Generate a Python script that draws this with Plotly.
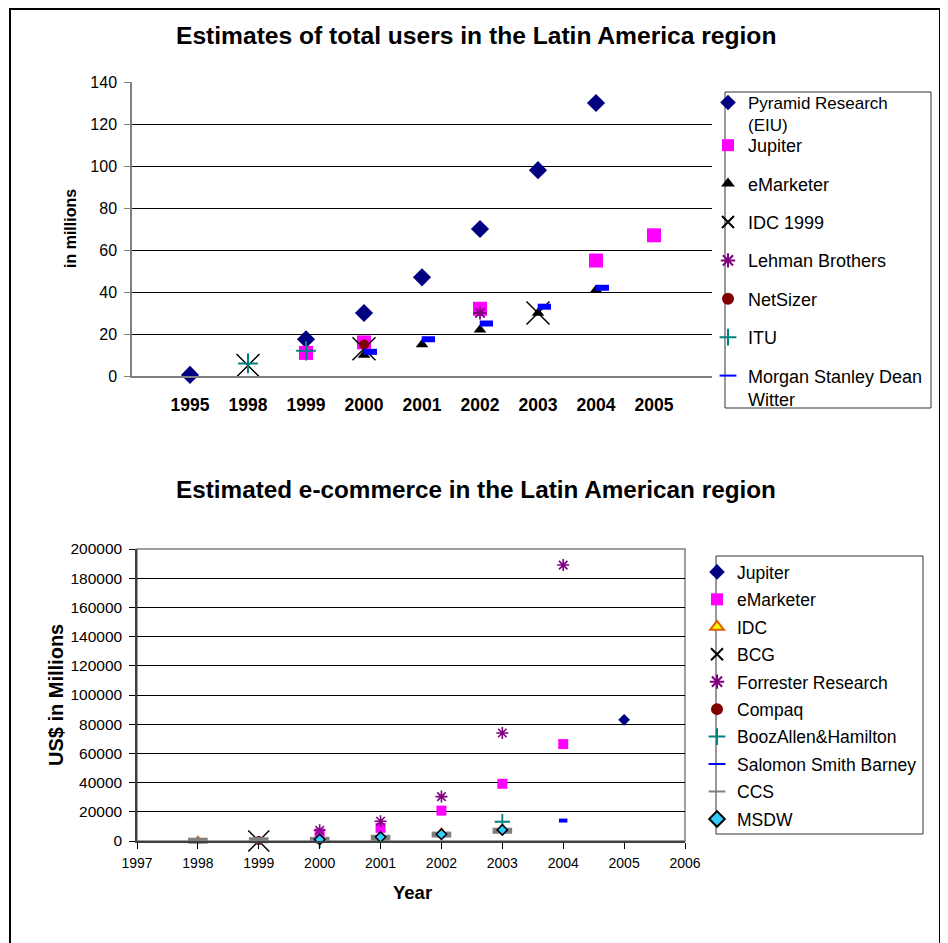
import plotly.graph_objects as go

W, H = 948, 943
OFF = 8  # page body margin in the browser
FONT = "Liberation Sans, Arial, sans-serif"

def fx(p):
    return (p - OFF) / W

def fy(p):
    return 1 - (p - OFF) / H

# ---------------- Top chart data (users, millions) ----------------
top_years = ["1995", "1998", "1999", "2000", "2001", "2002", "2003", "2004", "2005"]
pyramid = [0.5, None, 17.5, 30, 47, 70, 98, 130, None]
jupiter_u = [None, None, 11, 16, None, 32, None, 55, 67]
emarketer_u = [None, None, None, 10, 15, 22, 30, 41, None]
idc1999 = [None, 5, None, 13, None, None, 30, None, None]
lehman = [None, None, None, None, None, 30, None, None, None]
netsizer = [None, None, None, 15, None, None, None, None, None]
itu = [None, 6, 12, None, None, None, None, None, None]
msdw_u = [None, None, None, 11.5, 17.5, 25, 33, 42, None]

# ---------------- Bottom chart data (US$ millions) ----------------
bot_years = [1998, 1999, 2000, 2001, 2002, 2003, 2004, 2005]
jupiter_e = [None, None, None, None, None, None, None, 83000]
emarketer_e = [None, None, 5200, 9000, 20800, 39200, 66400, None]
idc_e = [300, None, 400, None, 6000, 8800, None, None]
bcg = [None, 0, None, None, None, None, None, None]
forrester = [None, None, 7400, 13500, 30400, 74000, 189000, None]
compaq = [None, 300, None, None, None, None, None, None]
booz = [None, None, 300, None, None, 13200, None, None]
salomon = [None, None, None, None, None, None, 14000, None]
ccs = [200, 500, 800, 2200, 4400, 7000, None, None]
msdw_e = [None, None, 1000, 2700, 4600, 7600, None, None]

fig = go.Figure()

pos = list(range(1, len(top_years) + 1))

def top_trace(name, vals, symbol, color, size, lw=0, lcolor=None, xaxis="x", legend="legend"):
    fig.add_trace(go.Scatter(
        x=pos, y=vals, mode="markers", name=name, legend=legend,
        legendgroup=name, xaxis=xaxis, yaxis="y", cliponaxis=False,
        marker=dict(symbol=symbol, color=color, size=size,
                    line=dict(width=lw, color=lcolor or color)),
        hoverinfo="x+y+name"))

top_trace("Pyramid Research<br>(EIU)", pyramid, "diamond", "#000080", 14, legend="legend3")
top_trace("Jupiter", jupiter_u, "square", "#FF00FF", 14)
top_trace("eMarketer", emarketer_u, "triangle-up", "#000000", 11)
top_trace("IDC 1999", idc1999, "x-thin", "#000000", 23, 1.5)
top_trace("Lehman Brothers", lehman, "asterisk", "#800080", 11, 1.8)
top_trace("NetSizer", netsizer, "circle", "#800000", 10)
top_trace("ITU", itu, "cross-thin", "#008080", 14, 2)
top_trace("Morgan Stanley Dean<br>Witter", msdw_u, "line-ew", "#0000FF", 9.5, 6, xaxis="x3")

def bot_trace(name, vals, symbol, color, size, lw=0, lcolor=None):
    fig.add_trace(go.Scatter(
        x=bot_years, y=vals, mode="markers", name=name, legend="legend2",
        legendgroup=name, xaxis="x2", yaxis="y2", cliponaxis=False,
        marker=dict(symbol=symbol, color=color, size=size,
                    line=dict(width=lw, color=lcolor or color))))

bot_trace("Jupiter", jupiter_e, "diamond", "#000080", 9)
bot_trace("eMarketer", emarketer_e, "square", "#FF00FF", 10)
bot_trace("IDC", idc_e, "triangle-up", "#FFFF00", 8, 1.5, "#E06000")
bot_trace("BCG", bcg, "x-thin", "#000000", 21, 1.5)
bot_trace("Forrester Research", forrester, "asterisk", "#800080", 10, 1.6)
bot_trace("Compaq", compaq, "circle", "#800000", 9)
bot_trace("BoozAllen&Hamilton", booz, "cross-thin", "#008080", 11, 1.8)
bot_trace("Salomon Smith Barney", salomon, "line-ew", "#0000FF", 6, 4)
bot_trace("CCS", ccs, "line-ew", "#808080", 14, 6)
bot_trace("MSDW", msdw_e, "diamond", "#33CCFF", 8, 1.5, "#000000")

leg_common = dict(xanchor="left", yanchor="top", bgcolor="rgba(0,0,0,0)",
                  borderwidth=0, itemsizing="constant")

fig.update_layout(
    width=W, height=H, autosize=False,
    margin=dict(l=0, r=0, t=0, b=0, pad=0, autoexpand=False),
    paper_bgcolor="white", plot_bgcolor="white",
    font=dict(family=FONT, color="black"),
    showlegend=True,
    xaxis=dict(domain=[fx(132), fx(712)], range=[0, 10], anchor="y",
               tickmode="array", tickvals=pos, ticktext=top_years,
               tickfont=dict(family=FONT, size=17.5, color="black", weight="bold"),
               ticks="", showgrid=False, zeroline=False,
               showline=True, linecolor="#808080", linewidth=1.5,
               ticklabelstandoff=12, fixedrange=True),
    xaxis3=dict(domain=[fx(132), fx(712)], range=[-0.11, 9.89], overlaying="x",
                anchor="y", visible=False, fixedrange=True),
    yaxis=dict(domain=[fy(376), fy(82)], range=[0, 140], dtick=20, anchor="x",
               tickfont=dict(family=FONT, size=16, color="black"),
               ticks="outside", ticklen=6, tickcolor="#808080",
               showgrid=True, gridcolor="#000000", gridwidth=1, zeroline=False,
               showline=True, linecolor="#808080", linewidth=1.5,
               ticklabelstandoff=4, fixedrange=True),
    xaxis2=dict(domain=[fx(137), fx(685)], range=[1997, 2006], dtick=1, anchor="y2",
                tickfont=dict(family=FONT, size=14, color="black"), tickformat="d",
                ticks="outside", ticklen=6, tickcolor="#000000",
                showgrid=False, zeroline=False, showline=True,
                linecolor="#404040", linewidth=1.5, ticklabelstandoff=2,
                fixedrange=True),
    yaxis2=dict(domain=[fy(841), fy(549)], range=[0, 200000], dtick=20000, anchor="x2",
                tickfont=dict(family=FONT, size=15.5, color="black"), tickformat="d",
                ticks="outside", ticklen=6, tickcolor="#000000",
                showgrid=True, gridcolor="#000000", gridwidth=1, zeroline=False,
                showline=True, linecolor="#404040", linewidth=1.5,
                ticklabelstandoff=4, fixedrange=True),
    legend3=dict(x=fx(708), y=fy(85), font=dict(family=FONT, size=17, color="black"),
                 valign="top", **leg_common),
    legend=dict(x=fx(708), y=fy(127), font=dict(family=FONT, size=18, color="black"),
                tracegroupgap=12.0, valign="top", **leg_common),
    legend2=dict(x=fx(697), y=fy(554), font=dict(family=FONT, size=17.5, color="black"),
                 tracegroupgap=1.7, **leg_common),
)

shapes = [
    # outer frame
    dict(type="rect", xref="paper", yref="paper", x0=fx(10), x1=fx(940),
         y0=fy(970), y1=fy(9), line=dict(color="black", width=2)),
    # top legend box
    dict(type="rect", xref="paper", yref="paper", x0=fx(725), x1=fx(931),
         y0=fy(408), y1=fy(92), line=dict(color="#333333", width=1)),
    # bottom legend box
    dict(type="rect", xref="paper", yref="paper", x0=fx(716), x1=fx(923),
         y0=fy(834), y1=fy(556), line=dict(color="#333333", width=1)),
    # bottom plot frame (top/right)
    dict(type="rect", xref="x2 domain", yref="y2 domain", x0=0, x1=1, y0=0, y1=1,
         line=dict(color="#808080", width=1.5), layer="below"),
]
fig.update_layout(shapes=shapes)

annotations = [
    dict(text="<b>Estimates of total users in the Latin America region</b>",
         x=fx(476), y=fy(35), xref="paper", yref="paper", showarrow=False,
         font=dict(family=FONT, size=24.6, color="black"), xanchor="center", yanchor="middle"),
    dict(text="<b>in millions</b>", x=fx(70), y=fy(229), xref="paper", yref="paper",
         showarrow=False, textangle=-90,
         font=dict(family=FONT, size=16, color="black"), xanchor="center", yanchor="middle"),
    dict(text="<b>Estimated e-commerce in the Latin American region</b>",
         x=fx(476), y=fy(490), xref="paper", yref="paper", showarrow=False,
         font=dict(family=FONT, size=24.3, color="black"), xanchor="center", yanchor="middle"),
    dict(text="<b>US$ in Millions</b>", x=fx(56), y=fy(695), xref="paper", yref="paper",
         showarrow=False, textangle=-90,
         font=dict(family=FONT, size=20, color="black"), xanchor="center", yanchor="middle"),
    dict(text="<b>Year</b>", x=fx(412), y=fy(892), xref="paper", yref="paper",
         showarrow=False,
         font=dict(family=FONT, size=18.5, color="black"), xanchor="center", yanchor="middle"),
]
fig.update_layout(annotations=annotations)

fig.write_html("out.html")
